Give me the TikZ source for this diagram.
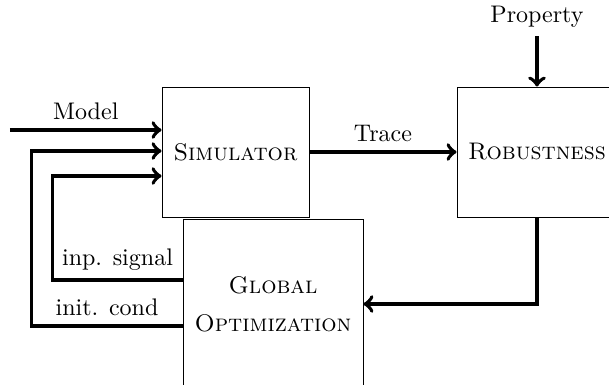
\documentclass[tikz,border=0pt]{standalone}
\usetikzlibrary{calc}
\begin{document}
\begin{tikzpicture}[x=0.41667pt,y=-0.41667pt,
  blockbox/.style={draw,rectangle,inner sep=0pt,align=center},
  conn/.style={->,ultra thick,line join=miter}]
\useasboundingbox (0,0) rectangle (609,385);
\node[blockbox,minimum width=61.25pt,minimum height=54.17pt] (sim) at (235.5,152) {\textsc{Simulator}};
\node[blockbox,minimum width=66.67pt,minimum height=54.17pt] (rob) at (537,152) {\textsc{Robustness}};
\node[blockbox,minimum width=75pt,minimum height=70.83pt] (go) at (273,304) {\textsc{Global}\\[3.8pt]\textsc{Optimization}};
\node (prop) at (537,17) {Property};
\coordinate (mstart) at (10,130);
\draw[conn] (mstart) -- node[above]{Model} (sim.west |- mstart);
\draw[conn] (sim.east) -- node[above]{Trace} (rob.west);
\draw[conn] (prop.south) -- (rob.north);
\draw[conn] (rob.south) |- (go.east);
\draw[conn] ($(go.west)+(0,22)$) -- node[above]{init. cond} ++(-151,0) |- ($(sim.west)+(0,-1)$);
\draw[conn] ($(go.west)+(0,-24)$) -- node[above]{inp. signal} ++(-130,0) |- ($(sim.west)+(0,24)$);
\end{tikzpicture}
\end{document}
